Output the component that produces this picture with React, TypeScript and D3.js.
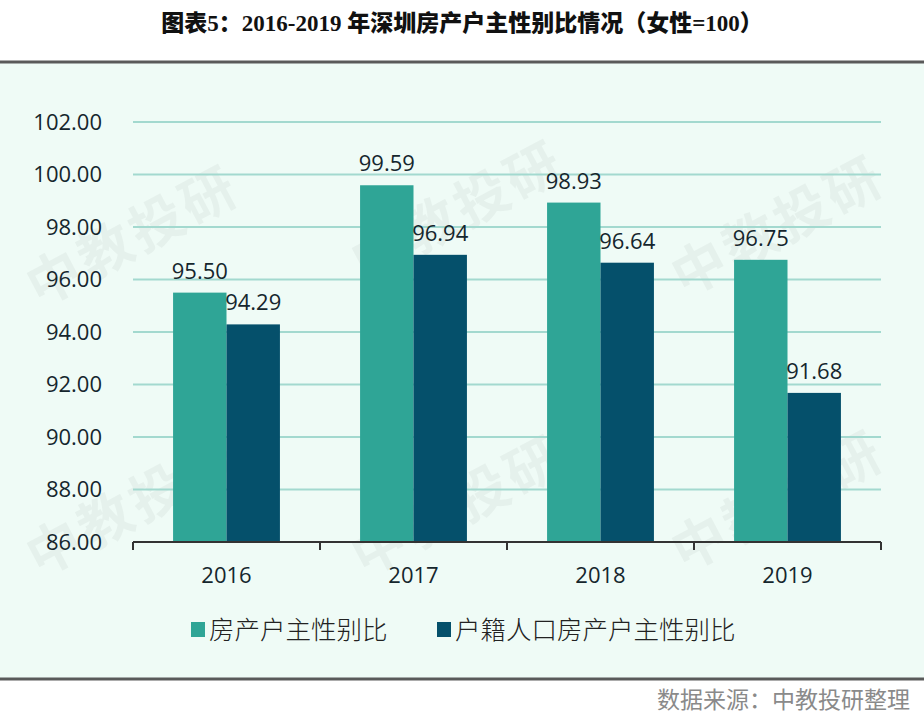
import React from "react";
import * as d3 from "d3";

const years = ["2016", "2017", "2018", "2019"];
const seriesNames = ["房产户主性别比", "户籍人口房产户主性别比"];
const ownerRatio = [95.5, 99.59, 98.93, 96.75];
const hukouRatio = [94.29, 96.94, 96.64, 91.68];
const yTicks = [86, 88, 90, 92, 94, 96, 98, 100, 102];
const colors = ["#2fa596", "#05506b"];
const title = "图表5：2016-2019 年深圳房产户主性别比情况（女性=100）";
const source = "数据来源：中教投研整理";
const watermark = "中教投研";

const W = 924;
const H = 723;

export default function App() {
  const x = d3.scaleBand().domain(years).range([133, 881]).paddingInner(0).paddingOuter(0);
  const inner = d3.scaleBand().domain(["0", "1"]).range([0, x.bandwidth()]).paddingInner(0).paddingOuter(0.75);
  const y = d3.scaleLinear().domain([86, 102]).range([542, 122]);
  const series = [ownerRatio, hukouRatio];
  const numFont = "'Open Sans', 'Noto Sans', sans-serif";
  const wmPos = [
    [135, 240], [460, 215], [780, 230],
    [135, 510], [460, 510], [780, 505],
  ];
  return (
    <svg width={W} height={H} style={{ position: "absolute", left: 0, top: 0 }}>
      <rect x={0} y={0} width={W} height={H} fill="#ffffff" />
      <rect x={0} y={62} width={W} height={617} fill="#effbf6" />
      <line x1={0} x2={W} y1={62} y2={62} stroke="#5a5a5a" strokeWidth={3} />
      <line x1={0} x2={W} y1={679} y2={679} stroke="#5a5a5a" strokeWidth={3} />
      <text x={462} y={31} textAnchor="middle" fontFamily="'Liberation Serif', 'Noto Sans CJK SC', serif" fontWeight={900} fontSize={23} fill="#111">
        {title}
      </text>
      {wmPos.map(([cx, cy], i) => (
        <text key={i} x={cx} y={cy} textAnchor="middle" dominantBaseline="middle" transform={`rotate(-28 ${cx} ${cy})`} fontFamily="'Noto Sans CJK SC', sans-serif" fontWeight="bold" fontSize={54} fill="#000" fillOpacity={0.04} letterSpacing={4}>
          {watermark}
        </text>
      ))}
      {yTicks.map((t) => (
        <g key={t}>
          {t !== 86 && (
            <line x1={133} x2={881} y1={y(t)} y2={y(t)} stroke="#a3d9cf" strokeWidth={2} />
          )}
          <text x={102} y={y(t)} dy="0.36em" textAnchor="end" fontFamily={numFont} fontSize={22} fill="#15262d">
            {t.toFixed(2)}
          </text>
        </g>
      ))}
      {series.map((vals, si) =>
        vals.map((v, i) => {
          const bx = (x(years[i]) ?? 0) + (inner(String(si)) ?? 0);
          return (
            <g key={`${si}-${i}`}>
              <rect x={bx} y={y(v)} width={inner.bandwidth()} height={y(86) - y(v)} fill={colors[si]} />
              <text x={bx + inner.bandwidth() / 2} y={y(v) - 14} textAnchor="middle" fontFamily={numFont} fontSize={22} fill="#15262d">
                {v.toFixed(2)}
              </text>
            </g>
          );
        })
      )}
      <line x1={133} x2={881} y1={542} y2={542} stroke="#333" strokeWidth={2} />
      {[...years.map((yr) => x(yr) ?? 0), 881].map((tx, i) => (
        <line key={i} x1={tx} x2={tx} y1={542} y2={550} stroke="#333" strokeWidth={2} />
      ))}
      {years.map((yr) => (
        <text key={yr} x={(x(yr) ?? 0) + x.bandwidth() / 2} y={575} dy="0.36em" textAnchor="middle" fontFamily={numFont} fontSize={22} fill="#15262d">
          {yr}
        </text>
      ))}
      {[
        { sx: 191, tx: 209, label: seriesNames[0], c: colors[0] },
        { sx: 437, tx: 455, label: seriesNames[1], c: colors[1] },
      ].map((l, i) => (
        <g key={i}>
          <rect x={l.sx} y={622} width={14} height={15} fill={l.c} />
          <text x={l.tx} y={630} dy="0.36em" fontFamily="'Noto Sans CJK SC', sans-serif" fontWeight={300} fontSize={25.5} fill="#222">
            {l.label}
          </text>
        </g>
      ))}
      <text x={910} y={700} dy="0.36em" textAnchor="end" fontFamily="'Noto Sans CJK SC', sans-serif" fontSize={23} fill="#8a8a8a">
        {source}
      </text>
    </svg>
  );
}
